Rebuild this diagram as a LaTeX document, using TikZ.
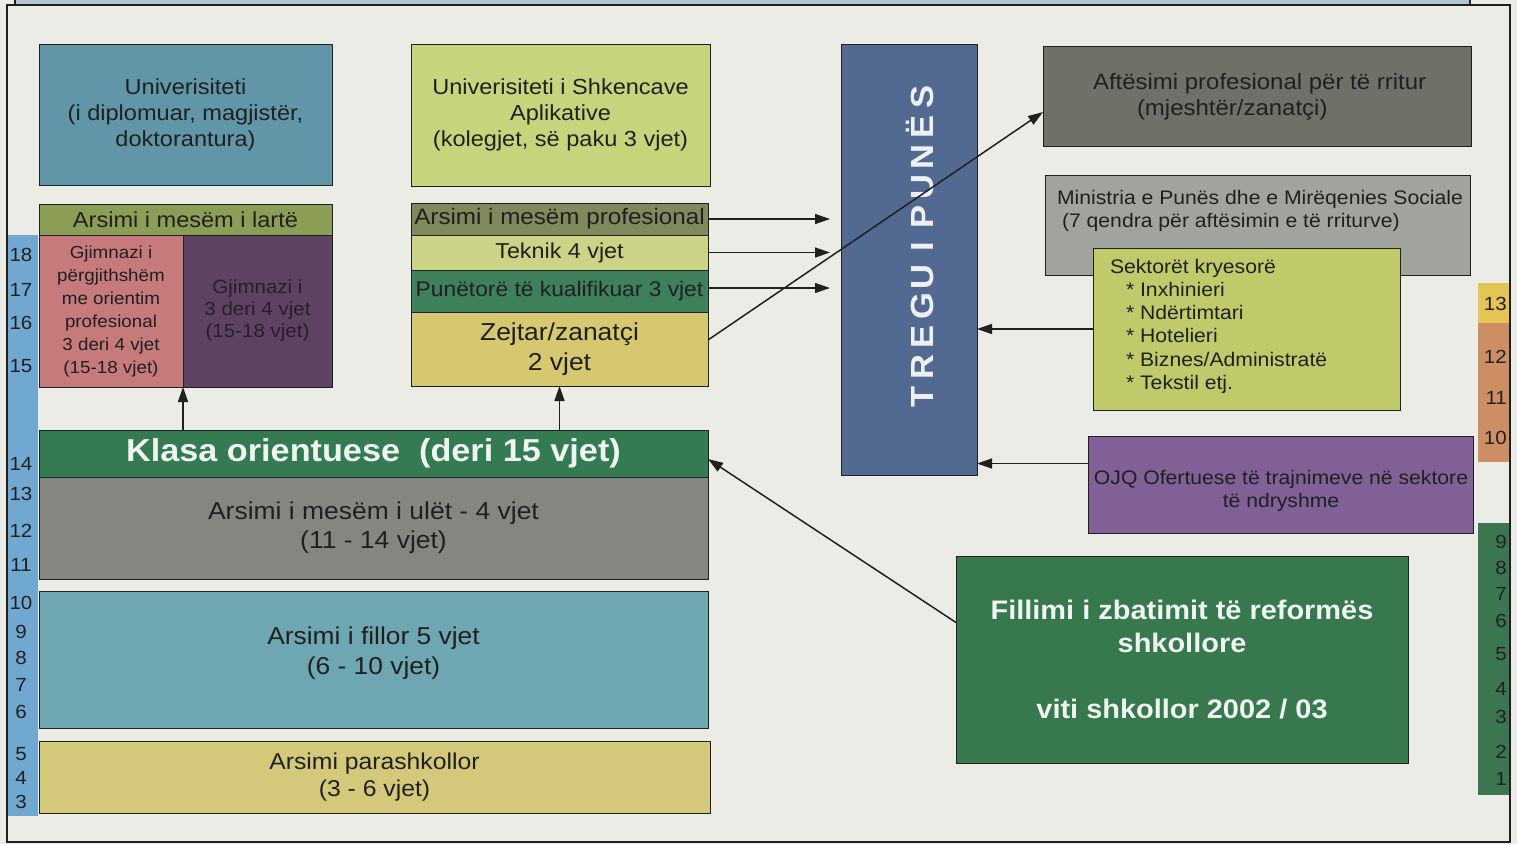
\documentclass[tikz,border=0pt]{standalone}
\usepackage{fontspec}
\setmainfont{Liberation Sans}[FakeStretch=1.08]
\usetikzlibrary{arrows.meta,calc}
\definecolor{bgc}{RGB}{236,236,231}
\definecolor{topc}{RGB}{178,196,206}
\definecolor{ageblue}{RGB}{112,168,210}
\definecolor{numyel}{RGB}{228,196,84}
\definecolor{numor}{RGB}{204,142,98}
\definecolor{numgr}{RGB}{60,118,80}
\definecolor{cuniv}{RGB}{96,150,168}
\definecolor{cusha}{RGB}{198,212,124}
\definecolor{clart}{RGB}{140,158,85}
\definecolor{cpink}{RGB}{198,122,124}
\definecolor{cpurp}{RGB}{94,66,98}
\definecolor{cprof}{RGB}{128,136,92}
\definecolor{ctek}{RGB}{203,212,134}
\definecolor{cpun}{RGB}{62,128,92}
\definecolor{czej}{RGB}{214,200,112}
\definecolor{ctreg}{RGB}{82,106,146}
\definecolor{caft}{RGB}{112,112,104}
\definecolor{cmin}{RGB}{162,162,158}
\definecolor{csek}{RGB}{192,202,106}
\definecolor{cojq}{RGB}{128,96,150}
\definecolor{cfil}{RGB}{56,120,78}
\definecolor{cklasa}{RGB}{52,122,82}
\definecolor{culet}{RGB}{134,134,128}
\definecolor{cfillor}{RGB}{110,166,178}
\definecolor{cpara}{RGB}{212,200,122}
\definecolor{ink}{RGB}{32,32,32}
\definecolor{purpink}{RGB}{40,30,44}
\newcommand\fs[2]{\fontsize{#1}{#2}\selectfont}
\newcommand\tlet[1]{\makebox[30pt]{#1}}
\tikzset{
  box/.style={draw=ink, line width=1pt, inner sep=0pt, outer sep=0pt, align=center, text=ink},
  lbl/.style={inner sep=0pt, outer sep=0pt, align=center, text=ink},
  arr/.style={-{Triangle[length=15pt,width=10pt]}, line width=1.5pt, draw=ink},
  num/.style={inner sep=0pt, text=ink, font=\fs{19}{22}},
}
\begin{document}
\begin{tikzpicture}[x=1pt,y=-1pt]
\useasboundingbox (0,0) rectangle (1517,844);
\fill[bgc] (0,0) rectangle (1517,844);
% top strip
\node[draw=ink, line width=1.5pt, fill=topc, minimum width=1455, minimum height=12, inner sep=0pt] (topbar) at (742.5,-1) {};
% side scales
\fill[ageblue] (7,235) rectangle (38,816);
\fill[numyel] (1478,283) rectangle (1510,323);
\fill[numor] (1478,323) rectangle (1510,462);
\fill[numgr] (1478,523) rectangle (1510,795);
\foreach \n/\y in {18/255,17/290,16/323,15/366,14/464,13/494,12/531,11/565,10/603,9/632,8/658,7/685,6/712,5/754,4/778,3/802}
  \node[num] (age\n) at (21,\y) {\n};
\foreach \n/\y in {13/304,12/357,11/398,10/438,9/542,8/568,7/594,6/621,5/654,4/689,3/717,2/752,1/779}
  \node[num, anchor=east] (r\n) at (1507,\y) {\n};
% frame
\draw[line width=2pt, ink] (7,5) rectangle (1510,842);
% top boxes
\node[box, fill=cuniv, minimum width=293, minimum height=141, font=\fs{21.8}{26}] (univ) at (185.5,114.5)
  {Univerisiteti\\(i diplomuar, magjistër,\\doktorantura)};
\node[box, fill=cusha, minimum width=299, minimum height=142, font=\fs{21.8}{26}] (usha) at (560.5,115)
  {Univerisiteti i Shkencave\\Aplikative\\(kolegjet, së paku 3 vjet)};
% upper secondary
\node[box, fill=clart, minimum width=293, minimum height=31, font=\fs{21.8}{24}] (lart) at (185.5,219.5) {Arsimi i mesëm i lartë};
\node[box, fill=cpink, minimum width=144, minimum height=152, font=\fs{17.4}{23}] (gjpink) at (111,311)
  {Gjimnazi i\\përgjithshëm\\me orientim\\profesional\\3 deri 4 vjet\\(15-18 vjet)};
\node[box, fill=cpurp, minimum width=149, minimum height=152, font=\fs{19}{22}, text=purpink] (gjpurp) at (257.5,311)
  {Gjimnazi i\\3 deri 4 vjet\\(15-18 vjet)};
% vocational
\node[box, fill=cprof, minimum width=297, minimum height=32, font=\fs{22.4}{24}] (prof) at (559.5,219) {Arsimi i mesëm profesional};
\node[box, fill=ctek, minimum width=297, minimum height=35, font=\fs{21.6}{24}] (tek) at (559.5,252.5) {Teknik 4 vjet};
\node[box, fill=cpun, minimum width=297, minimum height=42, font=\fs{21.1}{24}] (pun) at (559.5,291) {Punëtorë të kualifikuar 3 vjet};
\node[box, fill=czej, minimum width=297, minimum height=74, font=\fs{24.5}{30}] (zej) at (559.5,349) {Zejtar/zanatçi\\2 vjet};
% labour market
\node[box, fill=ctreg, minimum width=136, minimum height=431] (treg) at (909,259.5) {};
\node[lbl, rotate=90, text=white!90!ctreg, font=\bfseries\fs{32}{36}] (tregtxt) at (920,246.5)
  {\tlet{T}\tlet{R}\tlet{E}\tlet{G}\tlet{U}\tlet{I}\tlet{P}\tlet{U}\tlet{N}\tlet{Ë}\tlet{S}};
% right side
\node[box, fill=caft, minimum width=428, minimum height=100] (aft) at (1257,96) {};
\node[lbl, align=left, font=\fs{22.2}{26}, anchor=north west] (afttxt) at (1093,73)
  {Aftësimi profesional për të rritur\\\hspace*{44pt}(mjeshtër/zanatçi)};
\node[box, fill=cmin, minimum width=425, minimum height=100] (min) at (1257.5,225) {};
\node[lbl, align=left, font=\fs{19.6}{23}, anchor=west] (mintxt) at (1057,210.5)
  {Ministria e Punës dhe e Mirëqenies Sociale\\\hspace*{5pt}(7 qendra për aftësimin e të rriturve)};
\node[box, fill=csek, minimum width=307, minimum height=162] (sek) at (1246.5,329) {};
\node[lbl, align=left, font=\fs{19.6}{23.2}, anchor=north west] (sektxt) at (1110,259)
  {Sektorët kryesorë\\
   \hspace*{16pt}* Inxhinieri\\
   \hspace*{16pt}* Ndërtimtari\\
   \hspace*{16pt}* Hotelieri\\
   \hspace*{16pt}* Biznes/Administratë\\
   \hspace*{16pt}* Tekstil etj.};
\node[box, fill=cojq, minimum width=385, minimum height=97] (ojq) at (1280.5,484.5) {};
\node[lbl, font=\fs{19.6}{23}] (ojqtxt) at (1281,490.5)
  {OJQ Ofertuese të trajnimeve në sektore\\të ndryshme};
\node[box, fill=cfil, minimum width=452, minimum height=207, text=white!92!cfil, font=\bfseries\fs{26.8}{33}] (fil) at (1182,660)
  {Fillimi i zbatimit të reformës\\shkollore\\[33pt]viti shkollor 2002 / 03};
% lower levels
\node[box, fill=cklasa, minimum width=669, minimum height=47, text=white!92!cklasa, font=\bfseries\fs{31.7}{34}] (klasa) at (373.5,453.5)
  {Klasa orientuese\ \ (deri 15 vjet)};
\node[box, fill=culet, minimum width=669, minimum height=102, font=\fs{24.5}{29}] (ulet) at (373.5,528)
  {Arsimi i mesëm i ulët - 4 vjet\\(11 - 14 vjet)};
\node[box, fill=cfillor, minimum width=669, minimum height=137] (fillor) at (373.5,659.5) {};
\node[lbl, font=\fs{24.4}{30}] (fillortxt) at (373.5,653) {Arsimi i fillor 5 vjet\\(6 - 10 vjet)};
\node[box, fill=cpara, minimum width=671, minimum height=72, font=\fs{22.9}{27}] (para) at (374.5,777)
  {Arsimi parashkollor\\(3 - 6 vjet)};
% connectors
\draw[arr, shorten >=11pt] (prof.east) -- (prof.east -| treg.west);
\draw[arr, shorten >=11pt] (tek.east) -- (tek.east -| treg.west);
\draw[arr, shorten >=11pt] ([yshift=3pt]pun.east) -- ([yshift=3pt]pun.east -| treg.west);
\draw[arr] ([yshift=9pt]zej.east) -- ([yshift=-16pt]aft.west);
\draw[arr] (sek.west) -- (sek.west -| treg.east);
\draw[arr] ([yshift=21pt]ojq.west) -- ([yshift=21pt]ojq.west -| treg.east);
\draw[arr] ([yshift=37.5pt]fil.west) -- ([yshift=-5.5pt]klasa.east);
\draw[arr] (klasa.north -| gjpink.east) -- (gjpink.south east);
\draw[arr] (klasa.north -| zej.south) -- (zej.south);
\end{tikzpicture}
\end{document}
